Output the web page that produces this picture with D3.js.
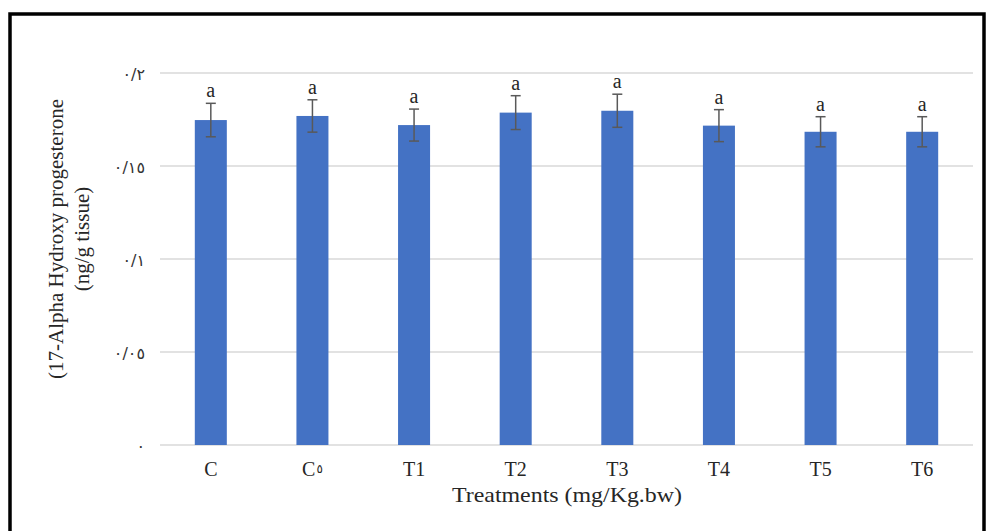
<!DOCTYPE html>
<html>
<head>
<meta charset="utf-8">
<script src="https://cdn.jsdelivr.net/npm/d3@7"></script>
<style>
  body { margin: 0; background: #fff; }
  .grid line { stroke: #d9d9d9; stroke-width: 1.3; }
  .yTick { font-family: "DejaVu Sans", sans-serif; font-size: 16px; fill: #333; }
  .xTick { font-family: "Liberation Serif", serif; font-size: 20px; fill: #262626; }
  .title { font-family: "Liberation Serif", serif; font-size: 21px; fill: #262626; }
  .sig { font-family: "Liberation Serif", serif; font-size: 20px; fill: #262626; }
</style>
</head>
<body>
<div id="chart"></div>
<script>
const W = 989, H = 531;

// data
const treatments = ["C", "C٥", "T1", "T2", "T3", "T4", "T5", "T6"];
const means  = [0.1747, 0.1769, 0.1720, 0.1787, 0.1797, 0.1717, 0.1684, 0.1684];
const errors = [0.0090, 0.0087, 0.0086, 0.0091, 0.0089, 0.0086, 0.0081, 0.0081];
const groups = ["a", "a", "a", "a", "a", "a", "a", "a"];
const yTicks = [0, 0.05, 0.1, 0.15, 0.2];
const yTickLabels = ["٠", "٠/٠٥", "٠/١", "٠/١٥", "٠/٢"];

const svg = d3.select("#chart").append("svg")
    .attr("width", W)
    .attr("height", H);

// frame
svg.append("path")
   .attr("d", "M10,531 L10,14 L984,14 L984,531")
   .attr("fill", "none")
   .attr("stroke", "#000")
   .attr("stroke-width", 3.5);

const x = d3.scaleBand()
            .domain(treatments)
            .range([160, 973])
            .paddingInner(0.685)
            .paddingOuter(0.3425);

const y = d3.scaleLinear()
            .domain([0, 0.2])
            .range([445, 73]);

// grid lines
svg.append("g")
   .attr("class", "grid")
   .selectAll("line")
   .data(yTicks)
   .enter()
   .append("line")
   .attr("x1", 160)
   .attr("x2", 973)
   .attr("y1", d => y(d))
   .attr("y2", d => y(d));

// y tick labels
svg.append("g")
   .selectAll("text")
   .data(yTicks)
   .enter()
   .append("text")
   .attr("class", "yTick")
   .attr("x", 145)
   .attr("y", d => y(d) + 7)
   .attr("text-anchor", "end")
   .text((d, i) => yTickLabels[i]);

// bars
const bars = treatments.map((t, i) => ({t: t, v: means[i], e: errors[i], g: groups[i]}));

svg.append("g")
   .selectAll("rect")
   .data(bars)
   .enter()
   .append("rect")
   .attr("x", d => x(d.t))
   .attr("width", x.bandwidth())
   .attr("y", d => y(d.v))
   .attr("height", d => y(0) - y(d.v))
   .attr("fill", "#4472c4");

// error bars
const eb = svg.append("g")
              .attr("stroke", "#595959")
              .attr("stroke-width", 1.5);
bars.forEach(d => {
    const cx = x(d.t) + x.bandwidth() / 2;
    eb.append("line").attr("x1", cx).attr("x2", cx)
      .attr("y1", y(d.v + d.e)).attr("y2", y(d.v - d.e));
    eb.append("line").attr("x1", cx - 5).attr("x2", cx + 5)
      .attr("y1", y(d.v + d.e)).attr("y2", y(d.v + d.e));
    eb.append("line").attr("x1", cx - 5).attr("x2", cx + 5)
      .attr("y1", y(d.v - d.e)).attr("y2", y(d.v - d.e));
});

// significance letters
svg.append("g")
   .selectAll("text")
   .data(bars)
   .enter()
   .append("text")
   .attr("class", "sig")
   .attr("x", d => x(d.t) + x.bandwidth() / 2)
   .attr("y", d => y(d.v + d.e) - 6)
   .attr("text-anchor", "middle")
   .text(d => d.g);

// x tick labels (arabic digit drawn smaller and raised, like the original)
svg.append("g")
   .selectAll("text")
   .data(treatments)
   .enter()
   .append("text")
   .attr("class", "xTick")
   .attr("x", d => x(d) + x.bandwidth() / 2)
   .attr("y", 476)
   .attr("text-anchor", "middle")
   .each(function(d){
       const t = d3.select(this);
       Array.from(d).forEach(ch => {
           const sp = t.append("tspan").text(ch);
           if (/[\u0660-\u0669]/.test(ch)) {
               sp.attr("font-size", "12px")
                 .attr("font-family", "DejaVu Sans")
                 .attr("dx", 1)
                 .attr("dy", -3);
           }
       });
   });

// axis titles
svg.append("text")
   .attr("class", "title")
   .attr("x", 567)
   .attr("y", 502)
   .attr("text-anchor", "middle")
   .attr("textLength", 230)
   .attr("lengthAdjust", "spacingAndGlyphs")
   .text("Treatments (mg/Kg.bw)");

const yt = svg.append("text")
              .attr("class", "title")
              .attr("transform", "translate(63,239) rotate(-90)")
              .attr("text-anchor", "middle");
yt.append("tspan").attr("x", 0).attr("y", 0).text("(17-Alpha Hydroxy progesterone");
yt.append("tspan").attr("x", 0).attr("y", 26).text("(ng/g tissue)");
</script>
</body>
</html>
